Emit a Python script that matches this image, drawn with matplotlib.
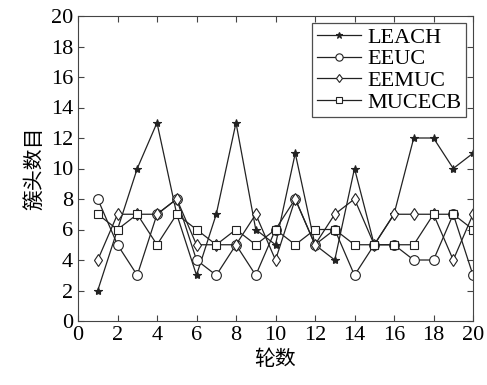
# -*- coding: utf-8
import numpy as np
import matplotlib.pyplot as plt

# 数据
rounds = np.arange(1, 21)
leach = [2, 6, 10, 13, 7, 3, 7, 13, 6, 5, 11, 5, 4, 10, 5, 7, 12, 12, 10, 11]
eeuc = [8, 5, 3, 7, 8, 4, 3, 5, 3, 6, 8, 5, 6, 3, 5, 5, 4, 4, 7, 3]
eemuc = [4, 7, 7, 7, 8, 5, 5, 5, 7, 4, 8, 5, 7, 8, 5, 7, 7, 7, 4, 7]
mucecb = [7, 6, 7, 5, 7, 6, 5, 6, 5, 6, 5, 6, 6, 5, 5, 5, 5, 7, 7, 6]
xticks = np.arange(0, 21, 2)
yticks = np.arange(0, 21, 2)


def main():
    plt.rcParams['font.family'] = ['Liberation Serif', 'Noto Sans CJK SC']
    fig = plt.figure(figsize=(4.87, 3.85), dpi=100)
    ax = fig.add_axes([78 / 487, 1 - 321 / 385, 395 / 487, 305 / 385])

    kw = dict(color='#222222', lw=0.9, mfc='white', mec='#222222', mew=0.8)
    ax.plot(rounds, leach, marker='*', ms=6, label='LEACH', **{**kw, 'mfc': '#222222'})
    ax.plot(rounds, eeuc, marker='o', ms=7, label='EEUC', **kw)
    ax.plot(rounds, eemuc, marker='d', ms=6, label='EEMUC', **kw)
    ax.plot(rounds, mucecb, marker='s', ms=6, label='MUCECB', **kw)

    ax.set_xlim(0, 20)
    ax.set_ylim(0, 20)
    ax.set_xticks(xticks)
    ax.set_yticks(yticks)
    ax.tick_params(direction='in', top=True, right=True, labelsize=16, length=4,
                   color='#444444')
    for s in ax.spines.values():
        s.set_color('#444444')
    ax.set_xlabel('轮数', fontsize=15, family='Noto Sans CJK SC', labelpad=2)
    ax.set_ylabel('簇头数目', fontsize=15, family='Noto Sans CJK SC', labelpad=4)

    leg = ax.legend(loc='upper right', fontsize=16, frameon=True, fancybox=False,
                    borderpad=0.2, labelspacing=0.05, handlelength=2.0,
                    handletextpad=0.3, borderaxespad=0.3, markerscale=0.75)
    leg.get_frame().set_edgecolor('#222222')
    leg.get_frame().set_linewidth(0.9)

    fig.savefig('out.png', dpi=100)


if __name__ == "__main__":
    main()
